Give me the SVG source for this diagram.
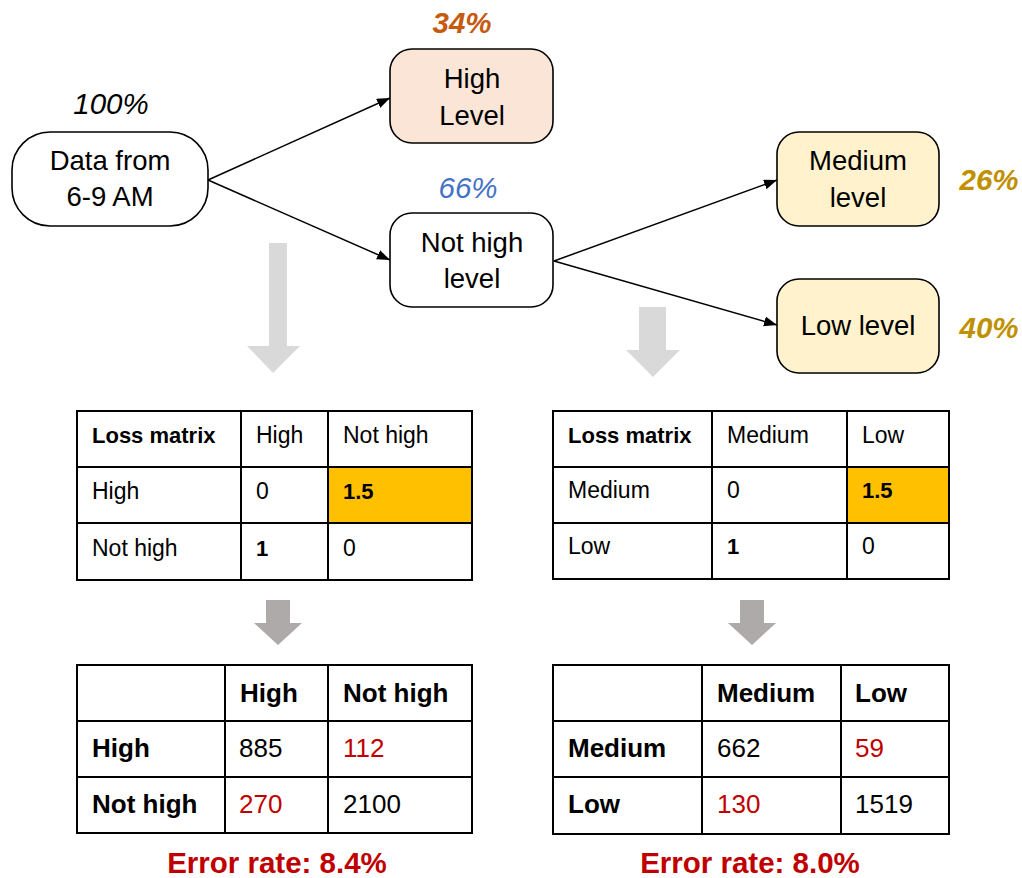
<svg xmlns="http://www.w3.org/2000/svg" width="1022" height="878" viewBox="0 0 1022 878">
<style>
text{font-family:"Liberation Sans",Arial,sans-serif;fill:#000}
.node{stroke:#000;stroke-width:1.6}
.nt{font-size:27.5px;text-anchor:middle}
.pct{font-size:29.5px;font-style:italic;text-anchor:middle}
.conn{stroke:#000;stroke-width:1.5;fill:none;marker-end:url(#ah)}
.grid{stroke:#000;stroke-width:2;fill:none}
.lt{font-size:23px}
.lt.b{font-size:22px}
.rt{font-size:26px}
.b{font-weight:bold}
.red{fill:#C00000}
.err{font-size:29.5px;font-weight:bold;fill:#C00000;text-anchor:middle}
.garrow1{fill:#D9D9D9}
.garrow2{fill:#AEAAAA}
</style>
<defs>
<marker id="ah" markerUnits="userSpaceOnUse" markerWidth="14" markerHeight="12" refX="13" refY="5" orient="auto">
<path d="M0,0 L13,5 L0,10 Z" fill="#000"/>
</marker>
</defs>
<rect width="1022" height="878" fill="#fff"/>

<g id="connectors">
<path class="conn" d="M208,180 L390,98"/>
<path class="conn" d="M208,180 L390,260"/>
<path class="conn" d="M554,261 L777,180"/>
<path class="conn" d="M554,261 L777,325"/>
</g>

<g id="node-data">
<rect class="node" x="12" y="132" width="196" height="94" rx="38" fill="#fff"/>
<text class="nt" x="110" y="170">Data from</text>
<text class="nt" x="110" y="206">6-9 AM</text>
<text class="pct" x="111" y="114">100%</text>
</g>

<g id="node-high">
<rect class="node" x="390" y="49" width="163" height="94" rx="22" fill="#FBE5D6"/>
<text class="nt" x="472" y="88">High</text>
<text class="nt" x="472" y="125">Level</text>
<text class="pct b" x="462" y="33" style="fill:#C55A11">34%</text>
</g>

<g id="node-nothigh">
<rect class="node" x="390" y="213" width="163" height="94" rx="22" fill="#fff"/>
<text class="nt" x="472" y="252">Not high</text>
<text class="nt" x="472" y="288">level</text>
<text class="pct" x="468" y="198" style="fill:#4472C4">66%</text>
</g>

<g id="node-medium">
<rect class="node" x="777" y="132" width="162" height="94" rx="22" fill="#FFF2CC"/>
<text class="nt" x="858" y="170">Medium</text>
<text class="nt" x="858" y="207">level</text>
<text class="pct b" x="989" y="190" style="fill:#BF9000">26%</text>
</g>

<g id="node-low">
<rect class="node" x="777" y="279" width="162" height="94" rx="22" fill="#FFF2CC"/>
<text class="nt" x="858" y="335">Low level</text>
<text class="pct b" x="989" y="338" style="fill:#BF9000">40%</text>
</g>

<g id="gray-arrows">
<path class="garrow1" d="M269,243 H287 V346 H300 L273,373 L247,346 H269 Z"/>
<path class="garrow1" d="M639,307 H666 V350 H680 L653,377 L626,350 H639 Z"/>
<path class="garrow2" d="M266,600 H290 V623 H302 L278,645 L254,623 H266 Z"/>
<path class="garrow2" d="M740,600 H764 V623 H776 L752,645 L728,623 H740 Z"/>
</g>

<g id="loss-table-left">
<rect x="328" y="467" width="144" height="56" fill="#FFC000"/>
<rect class="grid" x="77" y="411" width="395" height="169"/>
<path class="grid" d="M77,467 H472 M77,523 H472 M241,411 V580 M328,411 V580"/>
<text class="lt b" x="92" y="443">Loss matrix</text>
<text class="lt" x="256" y="443">High</text>
<text class="lt" x="343" y="443">Not high</text>
<text class="lt" x="92" y="499">High</text>
<text class="lt" x="256" y="499">0</text>
<text class="lt b" x="343" y="499">1.5</text>
<text class="lt" x="92" y="556">Not high</text>
<text class="lt b" x="256" y="556">1</text>
<text class="lt" x="343" y="556">0</text>
</g>

<g id="loss-table-right">
<rect x="847" y="467" width="102" height="56" fill="#FFC000"/>
<rect class="grid" x="553" y="411" width="396" height="168"/>
<path class="grid" d="M553,467 H949 M553,523 H949 M712,411 V579 M847,411 V579"/>
<text class="lt b" x="568" y="443">Loss matrix</text>
<text class="lt" x="727" y="443">Medium</text>
<text class="lt" x="862" y="443">Low</text>
<text class="lt" x="568" y="498">Medium</text>
<text class="lt" x="727" y="498">0</text>
<text class="lt b" x="862" y="498">1.5</text>
<text class="lt" x="568" y="554">Low</text>
<text class="lt b" x="727" y="554">1</text>
<text class="lt" x="862" y="554">0</text>
</g>

<g id="result-table-left">
<rect class="grid" x="77" y="665" width="395" height="168"/>
<path class="grid" d="M77,721 H472 M77,777 H472 M225,665 V833 M328,665 V833"/>
<text class="rt b" x="240" y="702">High</text>
<text class="rt b" x="343" y="702">Not high</text>
<text class="rt b" x="92" y="757">High</text>
<text class="rt" x="239" y="757">885</text>
<text class="rt red" x="343" y="757">112</text>
<text class="rt b" x="92" y="813">Not high</text>
<text class="rt red" x="239" y="813">270</text>
<text class="rt" x="343" y="813">2100</text>
<text class="err" x="277" y="873">Error rate: 8.4%</text>
</g>

<g id="result-table-right">
<rect class="grid" x="553" y="665" width="396" height="169"/>
<path class="grid" d="M553,721 H949 M553,777 H949 M702,665 V834 M841,665 V834"/>
<text class="rt b" x="717" y="702">Medium</text>
<text class="rt b" x="855" y="702">Low</text>
<text class="rt b" x="568" y="757">Medium</text>
<text class="rt" x="717" y="757">662</text>
<text class="rt red" x="855" y="757">59</text>
<text class="rt b" x="568" y="813">Low</text>
<text class="rt red" x="717" y="813">130</text>
<text class="rt" x="855" y="813">1519</text>
<text class="err" x="750" y="873">Error rate: 8.0%</text>
</g>
</svg>
